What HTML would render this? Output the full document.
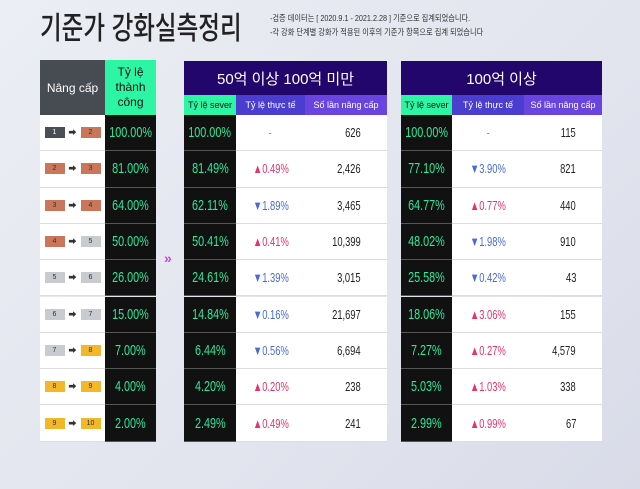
<!DOCTYPE html><html><head><meta charset="utf-8"><style>
body{margin:0;width:640px;height:489px;background:linear-gradient(135deg,#eceef5,#e2e4ee 60%,#d9dce8);font-family:"Liberation Sans","Noto Sans CJK KR",sans-serif;position:relative;overflow:hidden}
.a{position:absolute}
.title{left:40px;top:3px;font-size:31px;color:#222;transform:scaleX(0.76);transform-origin:left top;white-space:nowrap;font-weight:500}
.note{left:270px;font-size:8.5px;color:#333;white-space:nowrap;transform:scaleX(0.85);transform-origin:left top}
.h{display:flex;align-items:center;justify-content:center;color:#fff;text-align:center}
.cell{display:flex;align-items:center;justify-content:center;font-size:13px;box-sizing:border-box;border-bottom:1px solid #ddd}
.blk{background:#111;color:#2ee89a;border-bottom:1px solid #555;font-size:15px}
.n{display:inline-block;transform:scaleX(0.72)}
.badge{display:inline-block;width:20px;height:11px;font-size:7px;line-height:11px;text-align:center;color:#333}
.up{color:#e8326a}.dn{color:#4a6ad8}
</style></head><body>
<div class="a title">기준가 강화실측정리</div>
<div class="a note" style="top:12px">-검증 데이터는 [ 2020.9.1 - 2021.2.28 ] 기준으로 집계되었습니다.</div>
<div class="a note" style="top:26px">-각 강화 단계별 강화가 적용된 이후의 기준가 항목으로 집계 되었습니다</div>

<div class="a h" style="left:40px;top:60px;width:65px;height:55px;background:#474c53;font-size:12px">Nâng cấp</div>
<div class="a h" style="left:105px;top:60px;width:51px;height:55px;background:#2cf5a3;color:#111;font-size:12px;line-height:15px">Tỷ lệ<br>thành<br>công</div>
<div class="a" style="left:164px;top:250px;color:#d040e0;font-size:14px;font-weight:bold">»</div>

<div class="a h" style="left:184px;top:61px;width:203px;height:34px;background:#23066c;font-size:15px">50억 이상 100억 미만</div>
<div class="a h" style="left:184px;top:95px;width:52px;height:20px;background:#2cf5a3;color:#111;font-size:9px">Tỷ lệ sever</div>
<div class="a h" style="left:236px;top:95px;width:69px;height:20px;background:#4a3dcf;font-size:9px">Tỷ lệ thực tế</div>
<div class="a h" style="left:305px;top:95px;width:82px;height:20px;background:#6a44df;font-size:9px">Số lần nâng cấp</div>

<div class="a h" style="left:401px;top:61px;width:201px;height:34px;background:#23066c;font-size:15px">100억 이상</div>
<div class="a h" style="left:401px;top:95px;width:51px;height:20px;background:#2cf5a3;color:#111;font-size:9px">Tỷ lệ sever</div>
<div class="a h" style="left:452px;top:95px;width:72px;height:20px;background:#4a3dcf;font-size:9px">Tỷ lệ thực tế</div>
<div class="a h" style="left:524px;top:95px;width:78px;height:20px;background:#6a44df;font-size:9px">Số lần nâng cấp</div>

<div id="rows"></div>
<script>
const B={1:'#4a4f57',2:'#c9765a',3:'#c9765a',4:'#c9765a',5:'#c8cbd0',6:'#c8cbd0',7:'#c8cbd0',8:'#f2b82a',9:'#f2b82a',10:'#f2b82a'};
const d=[["100.00%","100.00%","-","626","100.00%","-","115"],
["81.00%","81.49%","▲0.49%","2,426","77.10%","▼3.90%","821"],
["64.00%","62.11%","▼1.89%","3,465","64.77%","▲0.77%","440"],
["50.00%","50.41%","▲0.41%","10,399","48.02%","▼1.98%","910"],
["26.00%","24.61%","▼1.39%","3,015","25.58%","▼0.42%","43"],
["15.00%","14.84%","▼0.16%","21,697","18.06%","▲3.06%","155"],
["7.00%","6.44%","▼0.56%","6,694","7.27%","▲0.27%","4,579"],
["4.00%","4.20%","▲0.20%","238","5.03%","▲1.03%","338"],
["2.00%","2.49%","▲0.49%","241","2.99%","▲0.99%","67"]];
let h='';const rh=36.3;
d.forEach((r,i)=>{const t=115+i*rh;
const c=(x,w,cls,txt,st,o)=>`<div class="a cell ${cls}" style="left:${x}px;top:${t}px;width:${w}px;height:${rh}px;${st||''}"><span class="n" style="transform-origin:${o||'center'}">${txt}</span></div>`;
const cl=s=>s[0]=='▲'?'up':s[0]=='▼'?'dn':'';
const bd=n=>`<span class="badge" style="background:${B[n]};color:${n==1?'#fff':'#333'}">${n}</span>`;
h+=`<div class="a cell" style="left:40px;top:${t}px;width:65px;height:${rh}px;background:#fff">${bd(i+1)}<span style="font-size:8px;margin:0 4px;color:#333">➡</span>${bd(i+2)}</div>`;
h+=c(105,51,'blk',r[0]);
h+=c(184,52,'blk',r[1]);
h+=c(236,69,cl(r[2]),r[2],'background:#fff;color:'+(cl(r[2])?'':'#999'));
h+=c(305,82,'',r[3],'background:#fff;justify-content:flex-end;padding-right:26px;color:#222','right');
h+=c(401,51,'blk',r[4]);
h+=c(452,72,cl(r[5]),r[5],'background:#fff;color:'+(cl(r[5])?'':'#999'));
h+=c(524,78,'',r[6],'background:#fff;justify-content:flex-end;padding-right:26px;color:#222','right');
});
document.getElementById('rows').innerHTML=h;
</script>
</body></html>
